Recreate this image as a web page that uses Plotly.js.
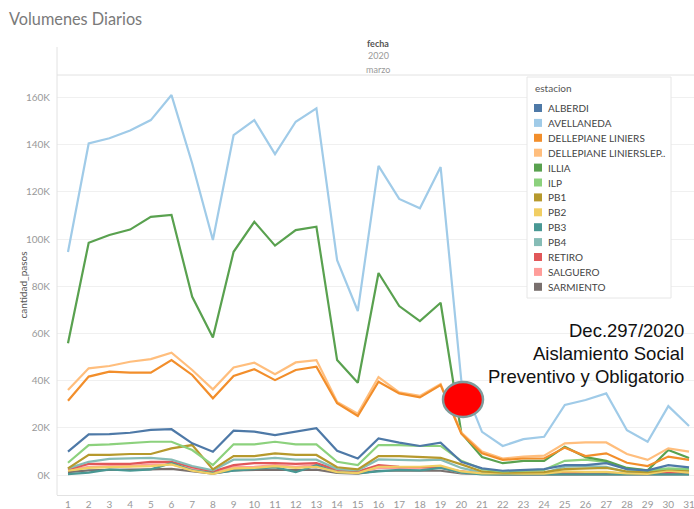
<!DOCTYPE html>
<html><head><meta charset="utf-8">
<script src="https://cdn.plot.ly/plotly-3.0.1.min.js"></script>
<style>html,body{margin:0;padding:0;background:#fff}#chart{width:694px;height:509px}</style>
</head><body><div id="chart"></div>
<script>
const days = Array.from({length:31},(_,i)=>i+1);
const stations = ["ALBERDI","AVELLANEDA","DELLEPIANE LINIERS","DELLEPIANE LINIERSLEP..","ILLIA","ILP","PB1","PB2","PB3","PB4","RETIRO","SALGUERO","SARMIENTO"];
const colors = ["#4e79a7","#a0cbe8","#f28e2b","#ffbe7d","#59a14f","#8cd17d","#b6992d","#f1ce63","#499894","#86bcb6","#e15759","#ff9d9a","#79706e"];

const alberdi    = [9900,17200,17300,17900,19100,19400,13400,9900,18800,18400,16900,18400,19800,10300,7000,15500,13700,12300,13700,5600,2800,1800,2200,2500,4200,4200,5000,2500,2000,4200,3200];
const avellaneda = [94500,140500,142700,146000,150400,161000,132000,99600,144000,150400,136000,149700,155400,91000,69500,131000,117000,113000,130500,40000,18300,12300,15200,16200,29700,31800,34600,19000,14100,29200,20800];
const dLiniers   = [31500,41700,43800,43400,43400,48700,42400,32500,42000,44800,40200,44500,45900,30400,25000,39500,34600,32900,38100,17500,9200,6400,7000,7000,11600,8000,9200,5200,3800,7800,6400];
const dLiniersLep= [36000,45200,46200,48000,49100,51800,44500,36300,45600,47600,42700,47700,48700,31000,26000,41500,35000,33500,38500,18000,9900,7000,7800,8200,13400,13800,13800,8900,6400,11300,9900];
const illia      = [55800,98400,101700,104000,109400,110200,75500,58300,94600,107300,97200,103800,105200,48700,39100,85600,71600,65200,73000,17800,7600,5000,6000,6000,12000,7600,6000,3000,2000,10600,7200];
const ilp        = [5200,12700,13000,13400,14100,14100,10600,4200,13000,13000,14100,13000,13000,5600,4200,12700,12700,12300,12300,6000,2500,1500,2000,2200,6000,6500,5500,2500,2000,2800,2500];
const pb1        = [2800,8500,8500,8900,8900,11300,12700,2400,8000,8000,9200,8500,8500,3300,2400,8000,8000,7800,7300,4500,1500,1000,1200,1200,2500,2800,3000,1500,1200,2500,2000];
const pb2        = [1800,3000,3300,3500,3800,4500,1800,500,2800,3000,3800,3000,3500,1200,800,3500,3500,3500,4000,1500,700,500,600,600,1500,1300,1300,700,500,1800,1000];
const pb3        = [400,1000,2400,1800,2400,5000,2000,800,1800,2400,3300,1200,4200,1200,800,1500,2200,2000,3000,1000,300,300,300,300,500,500,500,300,300,400,300];
const pb4        = [2800,5600,6800,7000,7300,6500,3800,2000,6500,6500,7300,6500,6500,2500,2000,6600,6500,6200,6500,3000,1000,800,900,900,3500,3800,3500,1200,1000,2200,1800];
const retiro     = [2400,4700,4700,4700,5600,5600,3300,1500,4200,5000,5000,4700,5000,2200,1500,4200,3500,3300,3300,1500,700,500,600,600,1000,1000,1000,600,500,900,700];
const salguero   = [2000,3500,3800,3800,4500,4500,2500,1000,3300,3500,4200,3500,4200,1500,1000,3000,3000,3000,3000,1000,500,400,400,400,700,700,700,400,300,600,500];
const sarmiento  = [1200,2000,2200,2200,2400,2600,1500,600,2000,2200,2300,2100,2300,900,600,1800,1800,1700,1800,700,300,200,200,200,400,400,400,200,200,300,300];
const series = [alberdi,avellaneda,dLiniers,dLiniersLep,illia,ilp,pb1,pb2,pb3,pb4,retiro,salguero,sarmiento];

const yTickVals = [0,20000,40000,60000,80000,100000,120000,140000,160000];
const yTickText = ["0K","20K","40K","60K","80K","100K","120K","140K","160K"];
const annotLines = ["Dec.297/2020","Aislamiento Social","Preventivo y Obligatorio"];

// pixel -> paper helpers (plot area 57..694 x 75..495)
const L=57,R=694,T=75,B=495;
const px = x => (x-L)/(R-L);
const py = y => (B-y)/(B-T);

const traces = [];
for (let i=series.length-1;i>=0;i--){
  traces.push({x:days,y:series[i],type:'scatter',mode:'lines',name:stations[i],
    line:{color:colors[i],width:2.2},showlegend:false,hoverinfo:'x+y+name'});
}

const annotations = [
  {text:"Volumenes Diarios",xref:'paper',yref:'paper',x:px(7),y:py(18),xanchor:'left',yanchor:'middle',showarrow:false,font:{family:'Lato, sans-serif',size:16.3,color:'#7a7a7a'}},
  {text:"<b>fecha</b>",xref:'paper',yref:'paper',x:px(378),y:py(43),xanchor:'center',yanchor:'middle',showarrow:false,font:{family:'Lato, sans-serif',size:9,color:'#555'}},
  {text:"2020",xref:'paper',yref:'paper',x:px(378),y:py(56),xanchor:'center',yanchor:'middle',showarrow:false,font:{family:'Lato, sans-serif',size:9,color:'#999'}},
  {text:"marzo",xref:'paper',yref:'paper',x:px(378),y:py(69),xanchor:'center',yanchor:'middle',showarrow:false,font:{family:'Lato, sans-serif',size:9,color:'#999'}},
  {text:"estacion",xref:'paper',yref:'paper',x:px(533),y:py(88),xanchor:'left',yanchor:'middle',showarrow:false,font:{family:'Lato, sans-serif',size:10,color:'#555'}}
];
annotLines.forEach((t,i)=>annotations.push({text:t,xref:'paper',yref:'paper',x:px(686),y:py(330+i*23),xanchor:'right',yanchor:'middle',showarrow:false,font:{family:'Liberation Sans, Arial, sans-serif',size:18.5,color:'#111'}}));

const shapes = [
  {type:'line',xref:'paper',yref:'paper',x0:0,x1:1,y0:1,y1:1,line:{color:'#e2e2e2',width:1}},
  {type:'line',xref:'paper',yref:'paper',x0:0,x1:0,y0:0,y1:py(47),line:{color:'#e2e2e2',width:1}},
  {type:'rect',xref:'paper',yref:'paper',x0:px(527),x1:px(671),y0:py(298),y1:py(77),fillcolor:'rgba(255,255,255,0.97)',line:{color:'#e6e6e6',width:1},layer:'above'},
  {type:'circle',xref:'paper',yref:'paper',x0:px(443),x1:px(483),y0:py(417),y1:py(382),fillcolor:'#ff0000',line:{color:'#7f9c9c',width:2.5},layer:'above'}
];
stations.forEach((s,i)=>{
  const yc = 108 + i*14.9;
  shapes.push({type:'rect',xref:'paper',yref:'paper',x0:px(534),x1:px(542),y0:py(yc+4),y1:py(yc-4),fillcolor:colors[i],line:{width:0},layer:'above'});
  annotations.push({text:s,xref:'paper',yref:'paper',x:px(546),y:py(yc),xanchor:'left',yanchor:'middle',showarrow:false,font:{family:'Lato, sans-serif',size:10,color:'#444'}});
});

const layout = {
  width:694,height:509,
  margin:{l:L,r:0,t:T,b:509-B},
  paper_bgcolor:'#fff',plot_bgcolor:'#fff',
  showlegend:false,
  font:{family:'Lato, sans-serif',color:'#999',size:10},
  xaxis:{range:[0.469,31.24],tickmode:'array',tickvals:days,ticks:'',showgrid:false,zeroline:false,
    showline:true,linecolor:'#e2e2e2',linewidth:1,tickfont:{size:10,color:'#999'},fixedrange:true,automargin:false,
    ticklabeloverflow:'allow'},
  yaxis:{range:[-8470,169500],tickmode:'array',tickvals:yTickVals,ticktext:yTickText,ticks:'',
    showgrid:true,gridcolor:'#f0f0f0',zeroline:false,showline:false,ticklabelstandoff:6,
    tickfont:{size:10,color:'#999'},automargin:false,fixedrange:true,
    title:{text:'cantidad_pasos',font:{size:10,color:'#555'}}},
  shapes:shapes,annotations:annotations
};
Plotly.newPlot('chart',traces,layout,{displayModeBar:false,staticPlot:true});
</script></body></html>
